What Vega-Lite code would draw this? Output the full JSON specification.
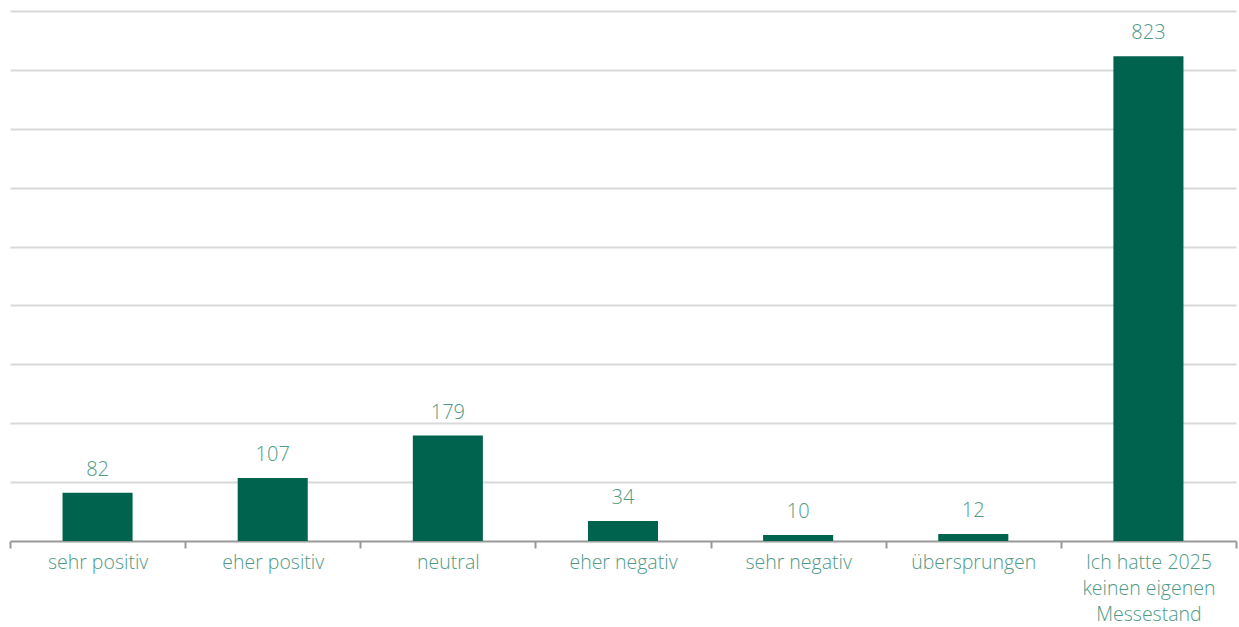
{
  "$schema": "https://vega.github.io/schema/vega-lite/v6.json",
  "width": 1226,
  "height": 530,
  "autosize": "none",
  "padding": {"left": 10, "top": 11, "right": 3, "bottom": 86},
  "background": "white",
  "config": {"view": {"stroke": null}, "font": "Open Sans"},
  "data": {"values": [
    {"cat": "sehr positiv", "n": 82},
    {"cat": "eher positiv", "n": 107},
    {"cat": "neutral", "n": 179},
    {"cat": "eher negativ", "n": 34},
    {"cat": "sehr negativ", "n": 10},
    {"cat": "übersprungen", "n": 12},
    {"cat": "Ich hatte 2025 keinen eigenen Messestand", "n": 823}
  ]},
  "encoding": {
    "x": {"field": "cat", "type": "nominal", "sort": null,
      "scale": {"paddingInner": 0, "paddingOuter": 0},
      "axis": {"title": null, "labelAngle": 0, "tickBand": "extent", "domainColor": "#999999", "domainWidth": 2,
        "tickColor": "#999999", "tickWidth": 2, "tickSize": 7, "labelFontSize": 19.5, "labelColor": "#4e9a86",
        "labelFont": "Open Sans", "labelFontWeight": 300, "labelPadding": 5, "labelLineHeight": 26,
        "labelExpr": "datum.value == 'Ich hatte 2025 keinen eigenen Messestand' ? ['Ich hatte 2025', 'keinen eigenen', 'Messestand'] : datum.value"}},
    "y": {"field": "n", "type": "quantitative", "scale": {"domain": [0, 900]},
      "axis": {"title": null, "labels": false, "ticks": false, "domain": false, "values": [100,200,300,400,500,600,700,800,900],
        "gridColor": "#d9d9d9", "gridWidth": 2}}
  },
  "layer": [
    {"mark": {"type": "bar", "color": "#00634d", "width": {"band": 0.4}}},
    {"mark": {"type": "text", "baseline": "alphabetic", "dy": -17, "fontSize": 20, "color": "#4e9a86", "font": "Open Sans", "fontWeight": 300},
     "encoding": {"text": {"field": "n", "type": "quantitative"}}}
  ]
}
